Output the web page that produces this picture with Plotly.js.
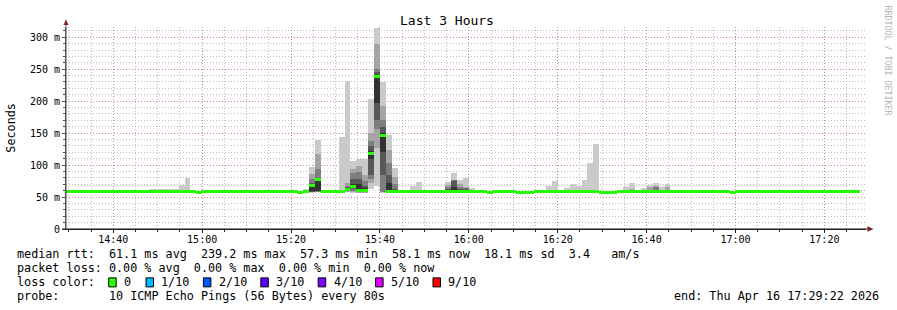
<!DOCTYPE html>
<html>
<head>
<meta charset="utf-8">
<script src="https://cdn.plot.ly/plotly-3.0.1.min.js"></script>
<style>html,body{margin:0;padding:0;background:#fff;}</style>
</head>
<body>
<div id="chart" style="width:897px;height:310px;"></div>
<script>
// ---------------- DATA ----------------
const startTime = '2026-04-16T14:29:22Z';   // graph start (end = 17:29:22)
const stepSeconds = 80;                      // one probe round every 80 s
const binCount = 135;

// median RTT per 80 s bin (ms), bins 0..133
const medianRtt = [
  58.0,58.0,57.9,58.2,58.1,58.0,58.0,58.1,57.9,58.0,
  58.1,58.0,58.0,58.0,58.1,58.0,58.0,58.0,58.0,58.2,
  58.0,58.0,57.5,58.0,59.0,58.0,58.1,58.0,58.0,58.0,
  58.0,58.0,58.1,58.0,58.0,58.0,58.0,58.0,58.1,57.8,
  58.0,68.0,77.6,58.2,58.0,58.1,58.5,62.0,66.0,60.5,
  60.5,118.4,239.2,147.0,58.5,58.0,58.3,58.0,58.2,58.0,
  58.0,58.0,58.0,58.0,59.0,58.5,58.5,58.5,58.0,58.0,
  58.0,57.5,58.0,58.0,58.0,58.0,57.6,57.6,57.6,58.0,
  58.0,58.0,58.0,58.0,58.0,58.0,58.0,58.0,58.2,58.0,
  57.8,57.3,57.5,58.0,58.3,58.0,58.0,58.0,58.2,58.3,
  58.3,58.2,58.0,58.0,58.0,58.0,58.0,58.0,58.0,58.0,
  58.0,58.0,57.8,58.0,58.0,59.0,58.5,58.0,58.0,58.0,
  58.0,58.0,58.0,58.0,58.0,58.0,58.0,58.0,58.0,58.0,
  58.0,58.0,58.1,58.1
];

// bins whose ping spread (smoke) is visible, with the 10 sorted pings (ms)
const smokeBins = [14,15,16,17,18,19,20,40,41,42,46,47,48,49,50,51,52,53,54,55,58,59,64,65,66,67,68,81,82,84,85,86,87,88,89,94,95,97,98,99,100,101];
const ping1  = [56.5,56.5,56.5,56.5,56.5,56.5,56.5,56.5,57,57.5,57,57.5,57,56.5,56.5,63,68,57,56.5,56.5,56.5,56.5,56.5,56.5,56.5,56.5,56.5,56.5,56.5,56.5,56.5,56.5,56.5,56.5,56.5,56.5,56.5,56.5,56.5,56.5,56.5,56.5];
const ping2  = [57,57,57,57,57,57,57,57,57.5,58,57.5,58,58,57,57,72,126,57.5,57,57,57,57,57,57,57,57,57,57,57,57,57,57,57,57,57,57,57,57,57,57,57,57];
const ping3  = [57.3,57.3,57.3,57.3,57.3,57.3,57.3,57.3,58,58.5,58,59,60,58,58,78,157,58,57.5,57.5,57.3,57.3,57.5,57.5,57.5,57.5,57.3,57.3,57.3,57.3,57.3,57.3,57.3,57.3,57.3,57.3,57.3,57.3,57.3,57.3,57.3,57.3];
const ping4  = [57.6,57.6,57.6,57.6,57.6,57.6,57.6,57.6,58.5,59,58.3,60,62,60,59,84,171,84,58,58,57.6,57.6,58,58,58,58,57.6,57.6,57.6,57.6,57.6,57.6,57.6,57.6,57.6,57.6,57.6,57.6,57.6,57.6,57.6,57.6];
const ping5  = [57.8,57.8,57.8,57.8,57.8,57.8,57.8,57.8,59,60,58.5,61,64,61,60,110,197,121,59,58.5,57.8,57.8,58.5,59,58.5,58.5,57.8,57.8,57.8,57.8,57.8,57.8,57.8,57.8,57.8,57.8,57.8,57.8,57.8,57.8,57.8,57.8];
const ping6  = [58.1,58.1,58.1,58.1,58.1,58.1,58.1,58.1,69,79,58.8,63.5,70,70,64,122,240,150,72,59.5,58.1,58.1,60,65,60,60,58.1,58.1,58.1,58.1,58.1,58.1,58.1,58.1,58.1,58.1,58.1,58.1,58.1,58.1,58.1,58.1];
const ping7  = [58.4,58.4,58.4,58.4,58.4,58.4,58.4,58.4,72,80,59,65,79,79,68,130,245,160,84,62,58.4,58.4,63,75,62,62,58.4,58.4,58.4,58.4,58.4,58.4,58.4,58.4,58.4,58.4,58.4,58.4,58.4,58.4,58.4,58.4];
const ping8  = [58.8,58.8,58.8,58.8,58.8,58.8,58.8,58.8,78,94,60,67,87,89,75,137,250,171,103,70,58.8,58.8,66,76,66,64,58.8,58.8,58.8,58.8,58.8,58.8,58.8,58.8,58.8,58.8,58.8,58.8,58.8,66,58.8,58.8];
const ping9  = [59.5,59.5,59.5,59.5,59.5,60,61,59.5,86,117,61,72,94,99,84,150,290,193,123,82,60,61,69,77,70,66,60,60,61,59.5,59.5,59.5,59.5,60,60,61,62,59.5,65,68,59.5,65];
const ping10 = [62,62,62,62,62,69.5,80.5,63,97,140,144.5,232,106,110,110,204,315,230,147,96,67,74,74,88,76,80,63.5,67.5,75,64.5,70,67.5,76.5,102.7,133,66,72,64.5,68.6,72,66,69.7];

const yTickVals   = [0, 50, 100, 150, 200, 250, 300];
const yTickLabels = ['0', '50 m', '100 m', '150 m', '200 m', '250 m', '300 m'];

const lossLabels = ['0', '1/10', '2/10', '3/10', '4/10', '5/10', '9/10'];
const lossColors = ['#26ff00', '#00b8ff', '#0059ff', '#5e00ff', '#7e00ff', '#dd00ff', '#ff0000'];

const legendLines = [
  'median rtt:  61.1 ms avg  239.2 ms max  57.3 ms min  58.1 ms now  18.1 ms sd  3.4   am/s',
  'packet loss: 0.00 % avg  0.00 % max  0.00 % min  0.00 % now',
  'loss color:',
  'probe:       10 ICMP Echo Pings (56 Bytes) every 80s'
];
const endText = 'end: Thu Apr 16 17:29:22 2026';
const titleText = 'Last 3 Hours';

// ---------------- STYLE / GEOMETRY ----------------
const W = 897, H = 310;
const plotLeft = 66, plotRight = 866, plotTop = 27, plotBottom = 228.7;
const plotW = plotRight - plotLeft, plotH = plotBottom - plotTop;
const yMax = 316;
const smokeShades = ['#cacaca', '#a4a4a4', '#7e7e7e', '#585858', '#323232'];
const mono = 'DejaVu Sans Mono, monospace';
const nb = s => s.replace(/ /g, '\u00a0');
const px2x = px => (px - plotLeft) / plotW;
const px2y = py => (plotBottom - py) / plotH;

const t0 = Date.parse(startTime);
const binMs = stepSeconds * 1000;
const binCenter = i => t0 + (i + 0.5) * binMs;
const tEnd = t0 + binCount * binMs;

// grid positions: every 5 minutes (minor) and every 10 ms (minor)
const firstMark = Date.parse('2026-04-16T14:30:00Z');
const minorX = [];
for (let t = firstMark; t < tEnd; t += 5 * 60 * 1000) minorX.push(t);
const minorY = [];
for (let v = 10; v < yMax; v += 10) minorY.push(v);

// ---------------- TRACES ----------------
const pings = [ping1, ping2, ping3, ping4, ping5, ping6, ping7, ping8, ping9, ping10];
const traces = [];
for (let L = 0; L < 5; L++) {
  const lo = pings[L], hi = pings[9 - L];
  traces.push({
    type: 'bar',
    x: smokeBins.map(binCenter),
    base: lo,
    y: hi.map((v, i) => v - lo[i]),
    width: smokeBins.map(() => binMs),
    marker: { color: smokeShades[L], line: { width: 0 } },
    hoverinfo: 'skip'
  });
}
const bandMs = 3 * yMax / plotH;   // median drawn as a 3 px band
traces.push({
  type: 'bar',
  x: medianRtt.map((v, i) => binCenter(i)),
  base: medianRtt.map(v => v - bandMs / 2),
  y: medianRtt.map(() => bandMs),
  width: medianRtt.map(() => binMs),
  marker: { color: lossColors[0], line: { width: 0 } },
  hoverinfo: 'skip'
});

// ---------------- ANNOTATIONS & SHAPES ----------------
const annotations = [];
const shapes = [];
const textFont = { family: mono, size: 11.75, color: '#000' };
const rowY = [254, 268, 282, 296];

legendLines.forEach((line, i) => {
  annotations.push({
    xref: 'paper', yref: 'paper', x: px2x(16), y: px2y(rowY[i]),
    xanchor: 'left', yanchor: 'middle', showarrow: false,
    text: nb(line), font: textFont, borderpad: 0
  });
});
annotations.push({
  xref: 'paper', yref: 'paper', x: px2x(880), y: px2y(rowY[3]),
  xanchor: 'right', yanchor: 'middle', showarrow: false,
  text: nb(endText), font: textFont, borderpad: 0
});
// loss colour boxes
const boxX = [108.7, 146.0, 203.4, 260.8, 318.2, 375.6, 433.0];
lossLabels.forEach((lab, i) => {
  shapes.push({
    type: 'rect', xref: 'paper', yref: 'paper',
    x0: px2x(boxX[i]), x1: px2x(boxX[i] + 7.5),
    y0: px2y(rowY[2] + 4.5), y1: px2y(rowY[2] - 4.5),
    fillcolor: lossColors[i], line: { color: '#000', width: 1 }
  });
  annotations.push({
    xref: 'paper', yref: 'paper', x: px2x(boxX[i] + 14.4), y: px2y(rowY[2]),
    xanchor: 'left', yanchor: 'middle', showarrow: false,
    text: nb(lab), font: textFont, borderpad: 0
  });
});
// y axis title
annotations.push({
  xref: 'paper', yref: 'paper', x: px2x(11), y: px2y(127.5),
  xanchor: 'center', yanchor: 'middle', showarrow: false, textangle: -90,
  text: 'Seconds', font: textFont, borderpad: 0
});
// watermark
annotations.push({
  xref: 'paper', yref: 'paper', x: px2x(887.5), y: px2y(60),
  xanchor: 'center', yanchor: 'middle', showarrow: false, textangle: 90,
  text: nb('RRDTOOL / TOBI OETIKER'), font: { family: mono, size: 8.3, color: '#b4b4b4' }, borderpad: 0
});
// axis extensions and arrows
shapes.push({ type: 'line', xref: 'paper', yref: 'paper', x0: px2x(62), x1: px2x(868), y0: 0, y1: 0, line: { color: '#1f1f1f', width: 1 } });
shapes.push({ type: 'line', xref: 'paper', yref: 'paper', x0: 0, x1: 0, y0: 0, y1: px2y(23), line: { color: '#555', width: 1 } });
shapes.push({ type: 'path', xref: 'paper', yref: 'paper',
  path: `M ${px2x(63.5)} ${px2y(25)} L ${px2x(68.5)} ${px2y(25)} L ${px2x(66)} ${px2y(19.5)} Z`,
  fillcolor: '#801f1f', line: { width: 0 } });
shapes.push({ type: 'path', xref: 'paper', yref: 'paper',
  path: `M ${px2x(867.5)} ${px2y(226)} L ${px2x(867.5)} ${px2y(231.4)} L ${px2x(873.5)} ${px2y(228.7)} Z`,
  fillcolor: '#801f1f', line: { width: 0 } });

// ---------------- LAYOUT ----------------
const gridMinor = 'rgba(143,143,143,0.6)';
const gridMajor = 'rgba(222,79,79,0.5)';
const layout = {
  width: W, height: H,
  margin: { l: plotLeft, r: W - plotRight, t: plotTop, b: H - plotBottom, pad: 0 },
  paper_bgcolor: '#ffffff', plot_bgcolor: '#ffffff',
  barmode: 'overlay', bargap: 0, showlegend: false,
  font: { family: mono, size: 10, color: '#000' },
  title: {
    text: titleText, font: { family: mono, size: 13, color: '#000' },
    xref: 'container', yref: 'container', x: 447 / W, y: 1 - 20 / H,
    xanchor: 'center', yanchor: 'middle'
  },
  xaxis: {
    type: 'date', range: [t0, tEnd],
    tickmode: 'linear', tick0: '2026-04-16 14:40:00', dtick: 20 * 60 * 1000, tickformat: '%H:%M',
    tickfont: { family: mono, size: 10, color: '#000' },
    ticks: 'outside', ticklen: 3, tickcolor: '#1f1f1f', ticklabelstandoff: -2,
    showgrid: true, gridcolor: gridMajor, griddash: '1px,2px', gridwidth: 1,
    minor: { tickmode: 'array', tickvals: minorX, showgrid: true,
             gridcolor: gridMinor, griddash: '1px,2px', ticks: 'outside', ticklen: 2, tickcolor: '#1f1f1f' },
    showline: true, linecolor: '#1f1f1f', linewidth: 1,
    zeroline: false, layer: 'above traces', fixedrange: true
  },
  yaxis: {
    range: [0, yMax], tickmode: 'array', tickvals: yTickVals, ticktext: yTickLabels,
    tickfont: { family: mono, size: 10, color: '#000' },
    ticks: 'outside', ticklen: 3, tickcolor: '#555',
    showgrid: true, gridcolor: gridMajor, griddash: '1px,2px', gridwidth: 1,
    minor: { tickmode: 'array', tickvals: minorY, showgrid: true, gridcolor: gridMinor, griddash: '1px,2px',
             ticks: 'outside', ticklen: 2, tickcolor: '#555' },
    showline: true, linecolor: '#555', linewidth: 1,
    zeroline: false, layer: 'above traces', fixedrange: true
  },
  annotations: annotations,
  shapes: shapes
};

Plotly.newPlot('chart', traces, layout, { staticPlot: true, displayModeBar: false });
</script>
</body>
</html>
